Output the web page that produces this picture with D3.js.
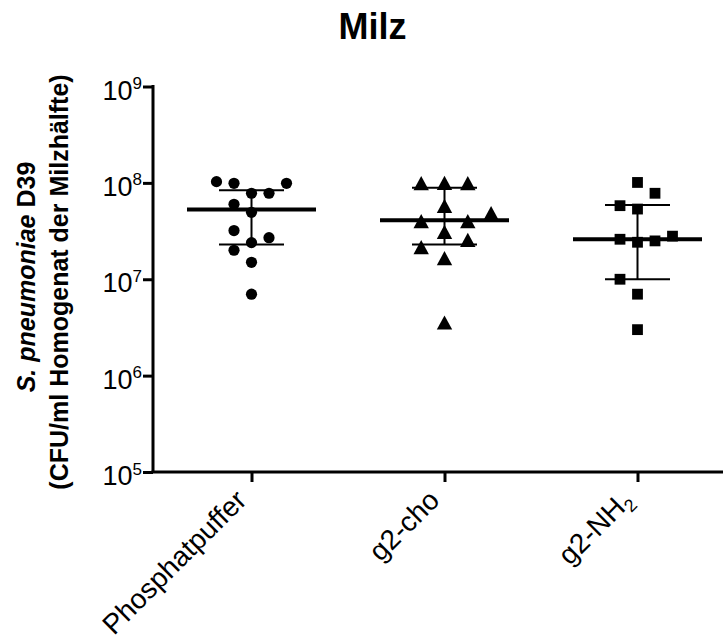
<!DOCTYPE html>
<html>
<head>
<meta charset="utf-8">
<script src="https://cdn.jsdelivr.net/npm/d3@7"></script>
<style>
body { margin: 0; background: #fff; }
svg text { font-family: "Liberation Sans", Arial, Helvetica, sans-serif; }
</style>
</head>
<body>
<div id="figure"></div>
<script>

// groups on the x axis
var categories = ["Phosphatpuffer", "g2-cho", "g2-NH2"];

// CFU/ml per animal
var phosphatValues = [1.03e8, 9.9e7, 9.9e7, 7.8e7, 7.8e7, 6.0e7, 4.95e7, 3.2e7, 2.7e7, 2.4e7, 2.0e7, 1.5e7, 7.0e6];
var phosphatSlots  = [-2, -1, 2, 0, 1, -1, 0, -1, 1, 0, -1, 0, 0];

var choValues = [1.0e8, 9.9e7, 9.9e7, 5.75e7, 4.85e7, 4.0e7, 4.0e7, 3.1e7, 2.55e7, 2.15e7, 1.65e7, 3.55e6];
var choSlots  = [0, -1, 1, 0, 2, -1, 1, 0, 1, -1, 0, 0];

var nh2Values = [1.01e8, 7.8e7, 5.8e7, 5.35e7, 2.6e7, 2.42e7, 2.5e7, 2.8e7, 1.0e7, 7.0e6, 3.0e6];
var nh2Slots  = [0, 1, -1, 0, -1, 0, 1, 2, -1, 0, 0];

// median with interquartile range
var medians = [5.3e7, 4.1e7, 2.6e7];
var q1 = [2.3e7, 2.3e7, 1.0e7];
var q3 = [8.4e7, 8.9e7, 5.9e7];

var yTicks = [1e5, 1e6, 1e7, 1e8, 1e9];

var W = 723, H = 644;
var axisX = 153, axisY = 472, axisTop = 86.5;

var svg = d3.select("#figure").append("svg")
	.attr("width", W).attr("height", H);

var x = d3.scalePoint().domain(categories).range([155, 734]).padding(0.5);
var y = d3.scaleLog().domain([1e5, 1e9]).range([axisY, axisTop]);

// symbol spacing differs a bit, triangles are wider
var slotW = {"Phosphatpuffer": 17.5, "g2-cho": 23.3, "g2-NH2": 17.5};

var groups = [
	{cat: "Phosphatpuffer", vals: phosphatValues, slots: phosphatSlots, sym: "circle"},
	{cat: "g2-cho", vals: choValues, slots: choSlots, sym: "triangle"},
	{cat: "g2-NH2", vals: nh2Values, slots: nh2Slots, sym: "square"}
];

// title
svg.append("text")
	.attr("x", 372.5).attr("y", 39)
	.attr("text-anchor", "middle")
	.attr("font-size", "36px")
	.attr("font-weight", "bold")
	.text("Milz");

// y axis
var yAxis = d3.axisLeft(y).tickValues(yTicks).tickSize(10).tickSizeOuter(0).tickFormat("");
var gy = svg.append("g").attr("transform", "translate(" + axisX + ",0)").call(yAxis);
gy.select(".domain").remove();
gy.selectAll(".tick line").attr("stroke", "#000").attr("stroke-width", 3);
gy.selectAll(".tick").append("text")
	.attr("x", -11).attr("y", 0)
	.attr("text-anchor", "end")
	.attr("fill", "#000")
	.each(function(d) {
		var t = d3.select(this);
		t.append("tspan").attr("dy", 12.5).attr("font-size", "27px").text("10");
		t.append("tspan").attr("dy", -10.5).attr("font-size", "17px").text(Math.round(Math.log10(d)));
	});
svg.append("line")
	.attr("x1", axisX).attr("x2", axisX)
	.attr("y1", axisTop - 1.5).attr("y2", axisY)
	.attr("stroke", "#000").attr("stroke-width", 3);

// x axis
var xAxis = d3.axisBottom(x).tickSize(10).tickSizeOuter(0).tickFormat("");
var gx = svg.append("g").attr("transform", "translate(0," + axisY + ")").call(xAxis);
gx.select(".domain").remove();
gx.selectAll(".tick line").attr("stroke", "#000").attr("stroke-width", 3);
svg.append("line")
	.attr("x1", axisX - 1.5).attr("x2", W)
	.attr("y1", axisY).attr("y2", axisY)
	.attr("stroke", "#000").attr("stroke-width", 3);

gx.selectAll(".tick").append("text")
	.attr("text-anchor", "end")
	.attr("fill", "#000")
	.attr("font-size", "28px")
	.attr("transform", "translate(-4,30)rotate(-45)")
	.each(function(d) {
		var t = d3.select(this);
		if (d == "g2-NH2") {
			t.append("tspan").text("g2-NH");
			t.append("tspan").attr("font-size", "18px").attr("dy", 6).text("2");
		}
		else
			t.text(d);
	});

// y title
var yt1 = svg.append("text")
	.attr("transform", "translate(35,277)rotate(-90)")
	.attr("text-anchor", "middle")
	.attr("font-size", "25px")
	.attr("font-weight", "bold");
yt1.append("tspan").attr("font-style", "italic").text("S. pneumoniae");
yt1.append("tspan").text(" D39");

svg.append("text")
	.attr("transform", "translate(68,282)rotate(-90)")
	.attr("text-anchor", "middle")
	.attr("font-size", "25px")
	.attr("font-weight", "bold")
	.text("(CFU/ml Homogenat der Milzh\u00e4lfte)");

// median + IQR bars
var stats = categories.map(function(c, i) {
	return {cat: c, med: medians[i], lo: q1[i], hi: q3[i]};
});

var bars = svg.selectAll("g.bar")
	.data(stats)
	.enter()
	.append("g")
	.attr("class", "bar");

bars.append("line")
	.attr("x1", function(d) { return x(d.cat); })
	.attr("x2", function(d) { return x(d.cat); })
	.attr("y1", function(d) { return y(d.hi); })
	.attr("y2", function(d) { return y(d.lo); })
	.attr("stroke", "#000").attr("stroke-width", 2);
bars.selectAll("line.cap")
	.data(function(d) { return [{cat: d.cat, v: d.hi}, {cat: d.cat, v: d.lo}]; })
	.enter()
	.append("line")
	.attr("class", "cap")
	.attr("x1", function(d) { return x(d.cat) - 32.5; })
	.attr("x2", function(d) { return x(d.cat) + 32.5; })
	.attr("y1", function(d) { return y(d.v); })
	.attr("y2", function(d) { return y(d.v); })
	.attr("stroke", "#000").attr("stroke-width", 2);
bars.append("line")
	.attr("x1", function(d) { return x(d.cat) - 64.5; })
	.attr("x2", function(d) { return x(d.cat) + 64.5; })
	.attr("y1", function(d) { return y(d.med); })
	.attr("y2", function(d) { return y(d.med); })
	.attr("stroke", "#000").attr("stroke-width", 4);

// points
function symPath(sym) {
	if (sym == "circle")
		return "M5.6,0A5.6,5.6 0 1,1 -5.6,0A5.6,5.6 0 1,1 5.6,0Z";
	if (sym == "triangle")
		return "M0,-7.2L7.7,7L-7.7,7Z";
	return "M-5.4,-5.4H5.4V5.4H-5.4Z";
}

groups.forEach(function(g) {
	var pts = g.vals.map(function(v, i) { return {v: v, s: g.slots[i]}; });
	svg.selectAll("path.p_" + g.sym)
		.data(pts)
		.enter()
		.append("path")
		.attr("class", "p_" + g.sym)
		.attr("d", symPath(g.sym))
		.attr("transform", function(d) {
			return "translate(" + (x(g.cat) + d.s * slotW[g.cat]) + "," + y(d.v) + ")";
		})
		.attr("fill", "#000");
});

</script>
</body>
</html>
